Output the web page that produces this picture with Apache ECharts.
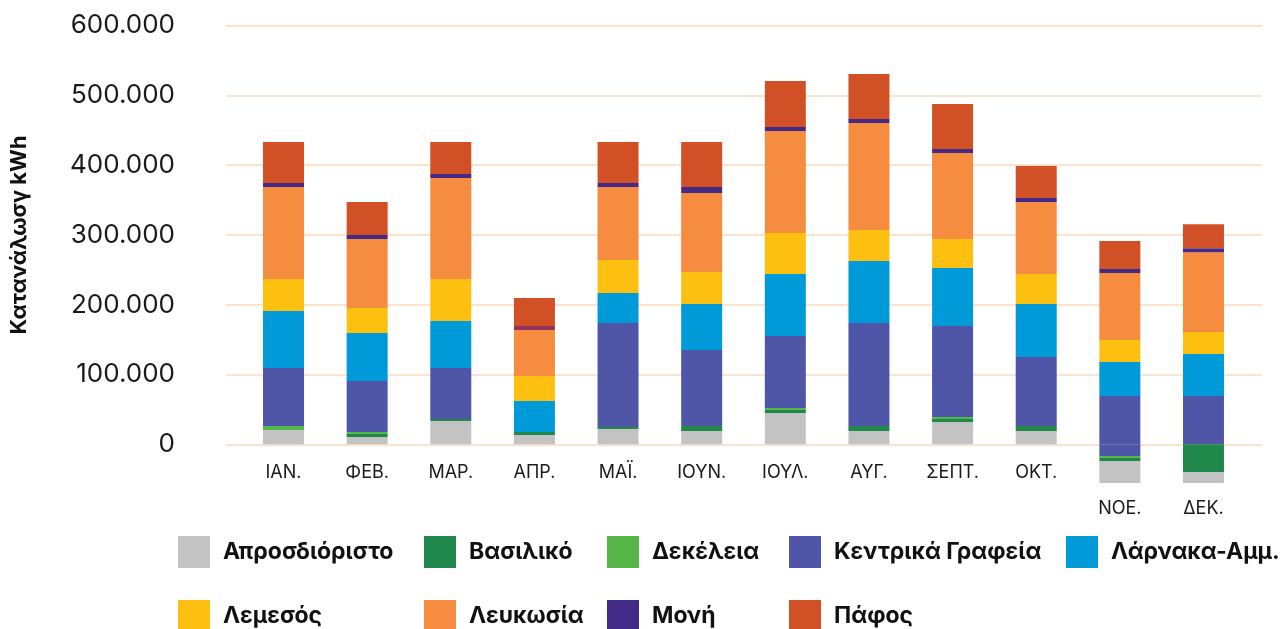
<!DOCTYPE html>
<html>
<head>
<meta charset="utf-8">
<script src="https://cdn.jsdelivr.net/npm/echarts@6/dist/echarts.min.js"></script>
<style>
  html, body { margin: 0; padding: 0; background: #ffffff; }
  #chart { width: 1288px; height: 629px; }
</style>
</head>
<body>
<div id="chart"></div>
<script>
// ---- Data (kWh) ----
const months = ['IAN.', 'ΦΕΒ.', 'ΜΑΡ.', 'ΑΠΡ.', 'ΜΑΪ.', 'ΙΟΥΝ.', 'ΙΟΥΛ.', 'ΑΥΓ.', 'ΣΕΠΤ.', 'ΟΚΤ.', 'ΝΟΕ.', 'ΔΕΚ.'];
const yTicks = [0, 100000, 200000, 300000, 400000, 500000, 600000];

const aprosdioristo = [20500, 10500, 33400, 13300, 21900, 19000, 44800, 19000, 31900, 19000, 0, 0];
const vasiliko      = [0, 4300, 2800, 4300, 2900, 7200, 4300, 7200, 4300, 7200, 0, 0];
const dekeleia      = [5700, 2900, 0, 0, 0, 0, 2900, 0, 2900, 0, 0, 0];
const kentrika      = [83100, 73100, 73100, 0, 149000, 108800, 103000, 147600, 130400, 99000, 69200, 69200];
const larnaka       = [81700, 68800, 67300, 44400, 43000, 66000, 89100, 88800, 83100, 75800, 48700, 60200];
const lemesos       = [45800, 35800, 60200, 35900, 47200, 45800, 58700, 44300, 41400, 43100, 31500, 31500];
const lefkosia      = [131800, 98700, 144700, 65900, 104600, 113200, 146100, 153400, 123300, 102900, 96100, 114300];
const moni          = [5800, 5900, 5700, 5700, 5800, 8600, 5700, 5700, 5700, 5900, 5700, 5700];
const pafos         = [58600, 47100, 45800, 40100, 58600, 64400, 65900, 64500, 64500, 45800, 40100, 34400];

// negative parts (drawn below zero, nearest-to-zero first)
const kentrikaNeg      = [0, 0, 0, 0, 0, 0, 0, 0, 0, 0, -16800, 0];
const dekeleiaNeg      = [0, 0, 0, 0, 0, 0, 0, 0, 0, 0, -2900, 0];
const vasilikoNeg      = [0, 0, 0, 0, 0, 0, 0, 0, 0, 0, -4300, -39700];
const aprosdioristoNeg = [0, 0, 0, 0, 0, 0, 0, 0, 0, 0, -31500, -15800];

const names = ['Απροσδιόριστο', 'Βασιλικό', 'Δεκέλεια', 'Κεντρικά Γραφεία', 'Λάρνακα-Αμμ.', 'Λεμεσός', 'Λευκωσία', 'Μονή', 'Πάφος'];
const lowLabels = ['ΝΟΕ.', 'ΔΕΚ.'];

// ---- Styles ----
const colors = {
  'Απροσδιόριστο': '#c3c3c3',
  'Βασιλικό': '#1f884a',
  'Δεκέλεια': '#55b748',
  'Κεντρικά Γραφεία': '#5056a7',
  'Λάρνακα-Αμμ.': '#009ad8',
  'Λεμεσός': '#fdc010',
  'Λευκωσία': '#f58c3f',
  'Μονή': '#432a87',
  'Πάφος': '#d25026'
};
const FONT = 'Inter, "Liberation Sans", Arial, sans-serif';
const TXT = '#1a1a1a';

const seriesDefs = [
  [names[0], aprosdioristo],
  [names[1], vasiliko],
  [names[2], dekeleia],
  [names[3], kentrika],
  [names[4], larnaka],
  [names[5], lemesos],
  [names[6], lefkosia],
  [names[7], moni],
  [names[8], pafos],
  [names[3], kentrikaNeg],
  [names[2], dekeleiaNeg],
  [names[1], vasilikoNeg],
  [names[0], aprosdioristoNeg]
];

const series = seriesDefs.map(([name, arr]) => ({
  name: name,
  type: 'bar',
  xAxisIndex: 1,
  yAxisIndex: 1,
  stack: 'total',
  barWidth: 41,
  clip: false,
  itemStyle: { color: colors[name] },
  emphasis: { disabled: true },
  data: (name === 'Μονή')
    ? arr.map((v, i) => i === 3 ? { value: v, itemStyle: { color: '#93325e' } } : v)
    : arr
}));

function fmt(v) {
  return String(v).replace(/\B(?=(\d{3})+(?!\d))/g, '.');
}

// legend placement: two rows aligned in columns
const legendPos = [
  { name: names[0], left: 178, top: 536 },
  { name: names[1], left: 424, top: 536 },
  { name: names[2], left: 607, top: 536 },
  { name: names[3], left: 789, top: 536 },
  { name: names[4], left: 1066, top: 536 },
  { name: names[5], left: 178, top: 600 },
  { name: names[6], left: 424, top: 600 },
  { name: names[7], left: 607, top: 600 },
  { name: names[8], left: 789, top: 600 }
];

const legends = legendPos.map(p => ({
  orient: 'horizontal',
  left: p.left,
  top: p.top,
  padding: 0,
  icon: 'rect',
  itemWidth: 32,
  itemHeight: 32,
  data: [p.name],
  textStyle: {
    fontFamily: FONT,
    fontWeight: 'bold',
    fontSize: 23,
    color: '#111111',
    padding: [0, 0, 0, 8]
  }
}));

const option = {
  animation: false,
  backgroundColor: '#ffffff',
  color: names.map(n => colors[n]),
  legend: legends,
  grid: [
    { left: 223, right: 26, top: 25.5, bottom: 184.7 },
    { left: 241.7, right: 42.7, top: 25.5, bottom: 184.7 }
  ],
  xAxis: [
    { type: 'category', gridIndex: 0, data: months, show: false },
    {
      type: 'category', gridIndex: 1, data: months,
      axisLine: { show: false },
      axisTick: { show: false },
      axisLabel: {
        interval: 0,
        margin: 19,
        fontFamily: FONT,
        fontSize: 18,
        color: TXT,
        formatter: v => lowLabels.includes(v) ? '{low|' + v + '}' : v,
        rich: {
          low: { padding: [36, 0, 0, 0], fontFamily: FONT, fontSize: 18, color: TXT }
        }
      }
    }
  ],
  yAxis: [
    {
      type: 'value', gridIndex: 0,
      min: yTicks[0], max: yTicks[yTicks.length - 1], interval: yTicks[1] - yTicks[0],
      axisLine: { show: false },
      axisTick: { show: false },
      splitLine: { show: true, lineStyle: { color: '#fde2cc', width: 2 } },
      axisLabel: {
        margin: 51,
        fontFamily: FONT,
        fontSize: 26,
        color: TXT,
        formatter: v => fmt(v)
      },
      name: 'Κατανάλωσγ kWh',
      nameLocation: 'middle',
      nameRotate: 90,
      nameGap: 196,
      nameTextStyle: { fontFamily: FONT, fontWeight: 'bold', fontSize: 22, color: '#111111' }
    },
    {
      type: 'value', gridIndex: 1,
      min: yTicks[0], max: yTicks[yTicks.length - 1], interval: yTicks[1] - yTicks[0],
      show: false,
      splitLine: { show: false }
    }
  ],
  series: series
};

const chart = echarts.init(document.getElementById('chart'), null, { renderer: 'canvas' });
chart.setOption(option);
</script>
</body>
</html>
